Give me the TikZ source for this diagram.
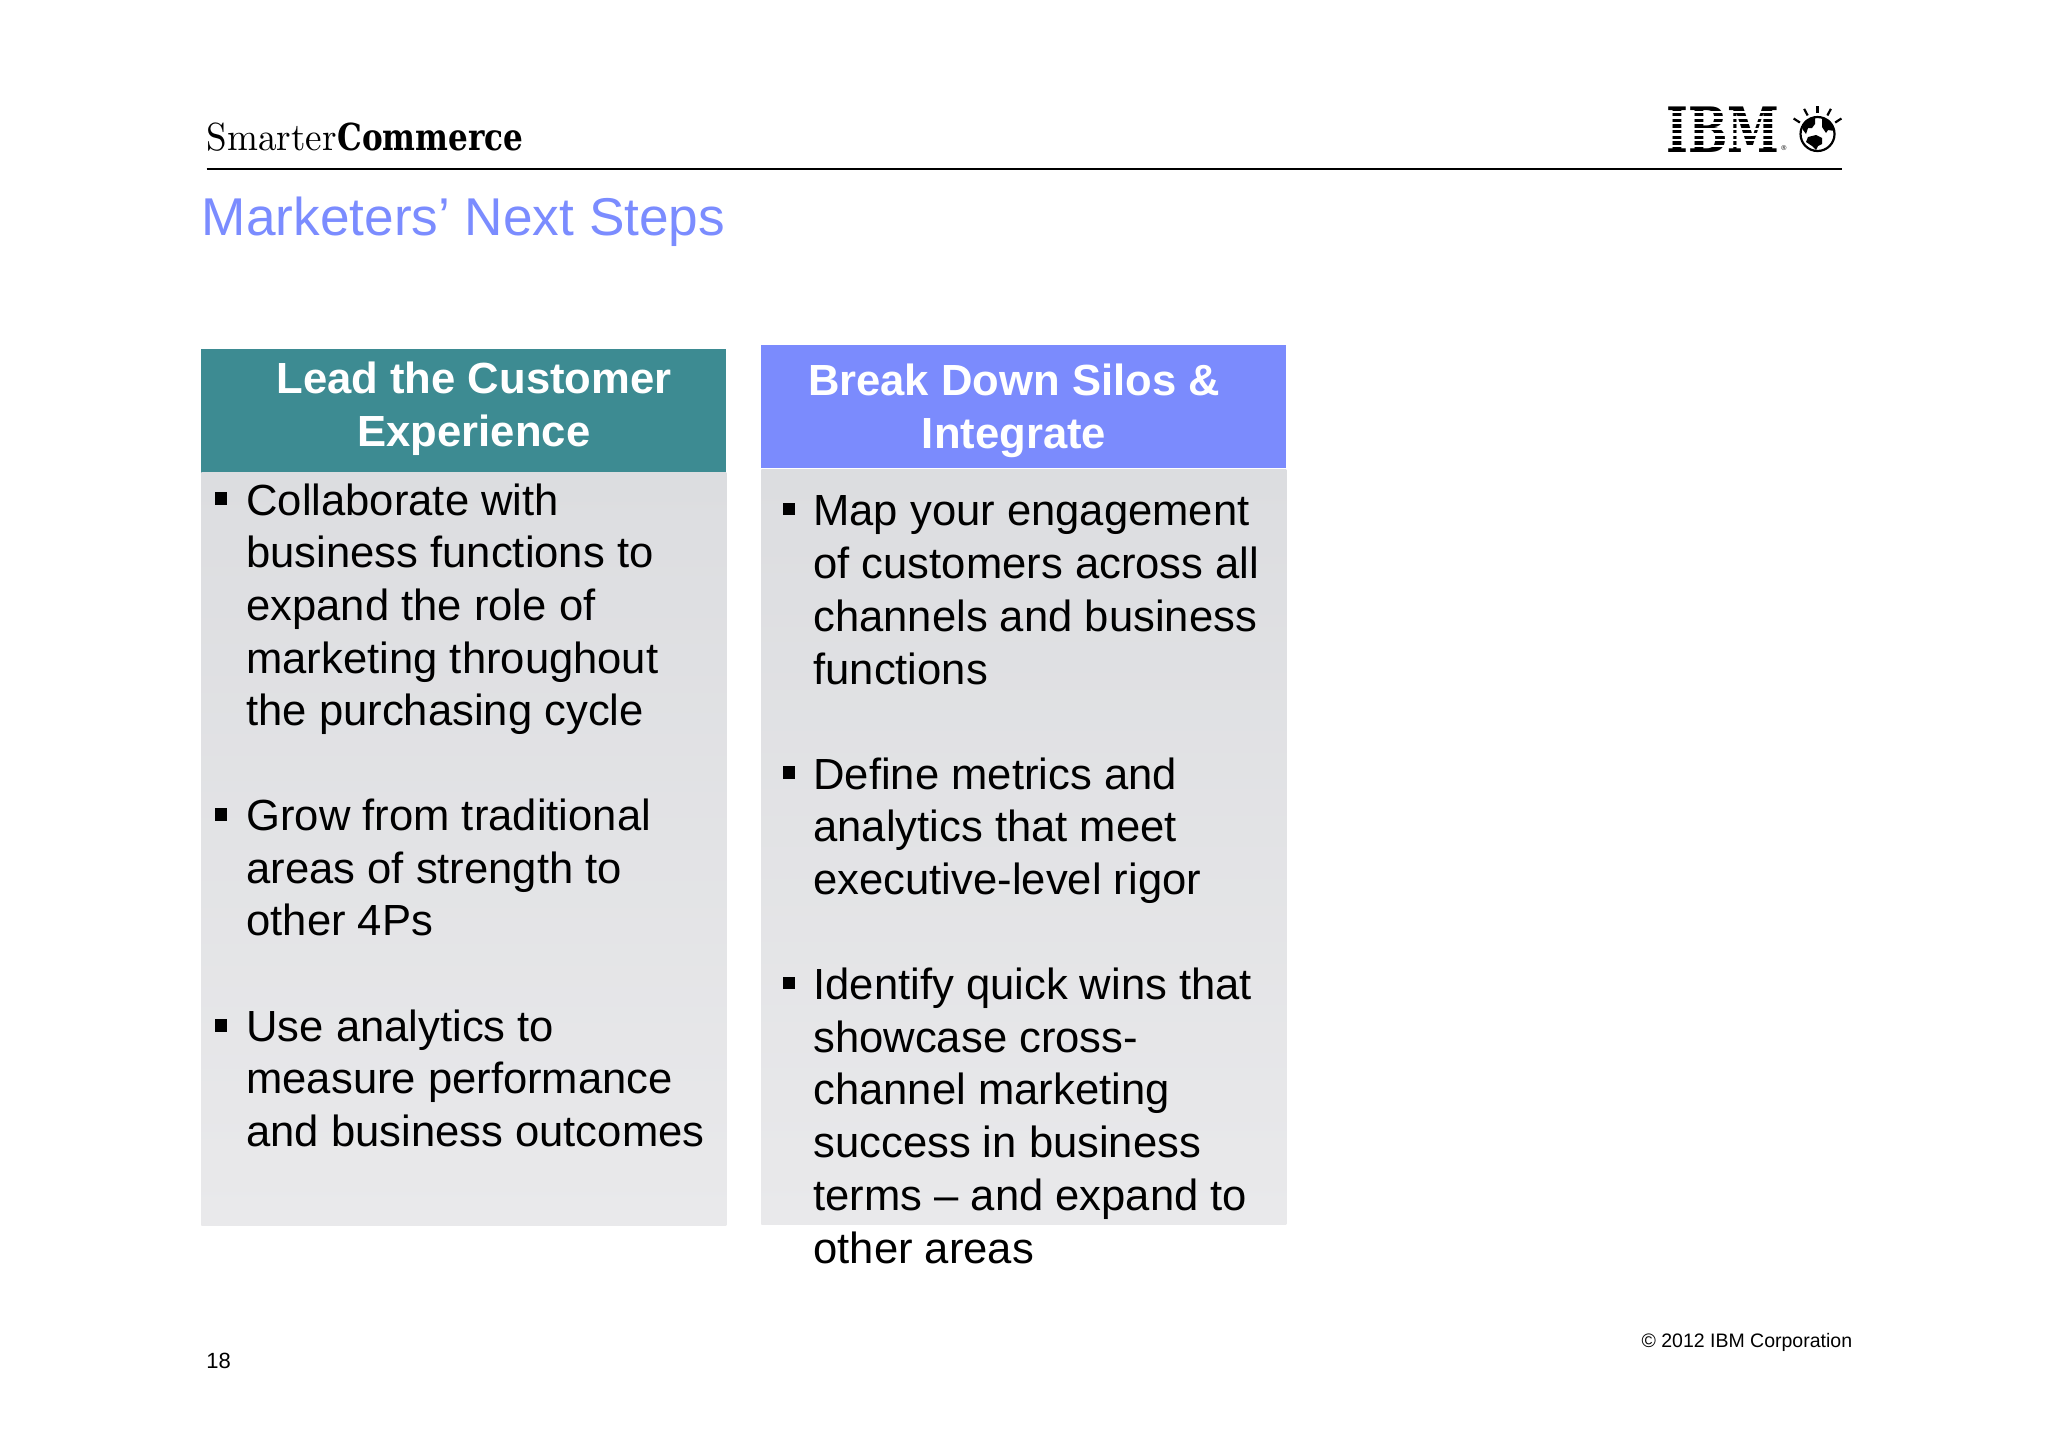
\documentclass[tikz,border=0pt]{standalone}
\usepackage{fontspec}
\setsansfont{Liberation Sans}
\newfontfamily\logofont{DejaVu Serif}
\usetikzlibrary{positioning}

\definecolor{titleblue}{HTML}{7B8CFF}
\definecolor{headteal}{HTML}{3D8B92}
\definecolor{headblue}{HTML}{7B8BFD}
\definecolor{bodytop}{HTML}{DCDDE0}
\definecolor{bodybot}{HTML}{E9E9EB}

\tikzset{
  bodybox/.style={rectangle,draw=none,inner sep=0,minimum width=262.5pt,anchor=north west,top color=bodytop,bottom color=bodybot},
  headbox/.style={rectangle,draw=none,inner sep=0,minimum width=262.5pt,minimum height=61.4pt,anchor=north west},
  headtext/.style={inner sep=0,text=white,align=center,font=\sffamily\bfseries\fontsize{21.8}{26.45}\selectfont},
  itemtext/.style={inner sep=0,anchor=north west,align=left,text=black,font=\sffamily\fontsize{21.8}{26.35}\selectfont},
  itembullet/.style={rectangle,fill=black,inner sep=0,minimum size=6.4pt},
  smalltext/.style={inner sep=0,text=black,font=\sffamily\fontsize{9.75}{11}\selectfont}
}

\begin{document}
\begin{tikzpicture}
  [x=0.5pt,y=-0.5pt]
  \useasboundingbox (0,0) rectangle (2048,1447);
  \fill[white] (0,0) rectangle (2048,1447);

  % header
  \node[inner sep=0,anchor=base west] (smarter) at (206.5,150.5) {\rmfamily\resizebox{65pt}{13.8pt}{Smarter}};
  \node[inner sep=0,anchor=base west] (commerce) at (337,150.5) {\logofont\bfseries\resizebox{93pt}{13.8pt}{Commerce}};
  \coordinate (rulea) at (206.5,169);
  \coordinate (ruleb) at (1841.5,169);
  \draw[line width=1.3pt] (rulea) -- (ruleb);
  \node[inner sep=0,anchor=base west,text=titleblue,font=\sffamily\fontsize{26.6}{30}\selectfont] (title) at (201.5,235) {Marketers’ Next Steps};

  % logo
  \node[inner sep=0,anchor=north west] (ibm) at (1666,106) {\logofont\bfseries\resizebox{56.6pt}{22.8pt}{IBM}};
  \foreach \k in {1,...,7}
    \draw[white,line width=1.1pt] (1662,106+5.71*\k) -- (1782,106+5.71*\k);
  \node[inner sep=0,font=\sffamily\fontsize{3.5}{4}\selectfont] (ibmreg) at (1784,148.3) {®};
  \node[circle,draw=black,line width=1.1pt,inner sep=0,minimum size=17pt] (globe) at (1817.5,134) {};
  \fill (1806,120) -- (1815,118) -- (1815,124) -- (1812,128) -- (1808,128) -- (1806,134) -- (1803,130) -- (1802,125) -- cycle;
  \fill (1822,118) -- (1829,120) -- (1833,125) -- (1835,131) -- (1828,130) -- (1826,133) -- (1822,127) -- cycle;
  \fill (1808,137) -- (1816,135) -- (1822,138) -- (1822,144) -- (1818,146) -- (1816,150) -- (1812,146) -- (1806,142) -- cycle;
  \foreach \a in {33,62,90,118,147}
    \draw[line width=1.1pt] (globe.center) ++(\a:-21) -- ++(\a:-7.5);

  % left column
  \node[headbox,minimum height=61.9pt,fill=headteal] (headl) at (201,348.7) {};
  \node[bodybox,minimum height=376.4pt] (bodyl) at (201,472.4) {};
  \node[headtext] (headltext) at (474,408.8) {Lead the Customer\\Experience};

  \node[itembullet] (bla) at (221,498.5) {};
  \node[itemtext] (tla) at (246,483) {Collaborate with\\business functions to\\expand the role of\\marketing throughout\\the purchasing cycle};
  \node[itembullet] (blb) at (221,814.5) {};
  \node[itemtext] (tlb) at (246,798.5) {Grow from traditional\\areas of strength to\\other 4Ps};
  \node[itembullet] (blc) at (221,1025.5) {};
  \node[itemtext] (tlc) at (246,1009) {Use analytics to\\measure performance\\and business outcomes};

  % right column
  \node[headbox,fill=headblue] (headr) at (761,344.8) {};
  \node[bodybox,minimum height=377.5pt] (bodyr) at (761,469) {};
  \node[headtext] (headrtext) at (1014,410.5) {Break Down Silos \&\\Integrate};

  \node[itembullet] (bra) at (789,509) {};
  \node[itemtext] (tra) at (813,495.5) {Map your engagement\\of customers across all\\channels and business\\functions};
  \node[itembullet] (brb) at (789,772.5) {};
  \node[itemtext] (trb) at (813,757) {Define metrics and\\analytics that meet\\executive-level rigor};
  \node[itembullet] (brc) at (789,983) {};
  \node[itemtext] (trc) at (813,967.5) {Identify quick wins that\\showcase cross-\\channel marketing\\success in business\\terms – and expand to\\other areas};

  % footer
  \node[smalltext,anchor=east] (copyr) at (1852.5,1342.5) {© 2012 IBM Corporation};
  \node[smalltext,anchor=west,font=\sffamily\fontsize{11}{13}\selectfont] (pageno) at (206,1361) {18};
\end{tikzpicture}
\end{document}
